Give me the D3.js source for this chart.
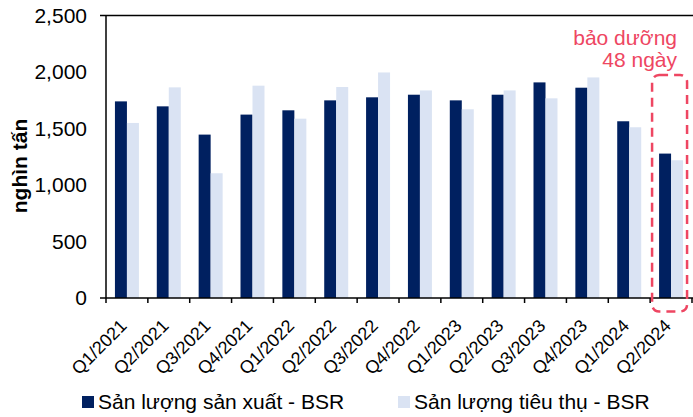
<!DOCTYPE html>
<html>
<head>
<meta charset="utf-8">
<script src="https://cdn.jsdelivr.net/npm/d3@7"></script>
<style>
  html, body { margin: 0; padding: 0; background: #ffffff; }
  svg { display: block; font-family: "Liberation Sans", Arial, sans-serif; }
</style>
</head>
<body>
<svg id="chart" width="693" height="417"></svg>
<script>
const categories = ["Q1/2021","Q2/2021","Q3/2021","Q4/2021","Q1/2022","Q2/2022","Q3/2022","Q4/2022","Q1/2023","Q2/2023","Q3/2023","Q4/2023","Q1/2024","Q2/2024"];
const seriesNames = ["Sản lượng sản xuất - BSR", "Sản lượng tiêu thụ - BSR"];
const production = [1740, 1696, 1446, 1623, 1661, 1749, 1776, 1799, 1749, 1799, 1908, 1861, 1564, 1278];
const consumption = [1549, 1864, 1104, 1879, 1587, 1867, 1996, 1837, 1670, 1837, 1767, 1952, 1511, 1219];
const yTicks = [0, 500, 1000, 1500, 2000, 2500];
const yTitle = "nghìn tấn";
const annotation = ["bảo dưỡng", "48 ngày"];
const highlightCategory = "Q2/2024";
const colors = ["#002060", "#dae3f3"];
const annoColor = "#ee4662";

(function () {
const svg = d3.select("#chart");
const pLeft = 106, pRight = 692, pTop = 15.5, pBottom = 298;

const x = d3.scaleBand().domain(categories).range([pLeft, pRight]).paddingInner(0.427).paddingOuter(0.2135);
const x1 = d3.scaleBand().domain(seriesNames).range([0, x.bandwidth()]);
const y = d3.scaleLinear().domain([0, 2500]).range([pBottom, pTop]);

const data = categories.map((c, i) => ({ cat: c, vals: [production[i], consumption[i]] }));

const g = svg.append("g");
data.forEach(d => {
  d.vals.forEach((v, j) => {
    g.append("rect")
      .attr("x", x(d.cat) + x1(seriesNames[j]))
      .attr("y", y(v))
      .attr("width", x1.bandwidth())
      .attr("height", y(0) - y(v))
      .attr("fill", colors[j]);
  });
});

svg.append("line").attr("x1", pLeft - 6).attr("x2", pRight + 1).attr("y1", y(2500)).attr("y2", y(2500))
  .attr("stroke", "#000").attr("stroke-width", 1.5);
svg.append("line").attr("x1", pLeft).attr("x2", pLeft).attr("y1", y(2500)).attr("y2", y(0))
  .attr("stroke", "#000").attr("stroke-width", 1.5);
svg.append("line").attr("x1", pLeft - 6).attr("x2", pRight + 1).attr("y1", y(0)).attr("y2", y(0))
  .attr("stroke", "#000").attr("stroke-width", 1.5);

const half = (x.step() - x.bandwidth()) / 2;
const bounds = categories.map(c => x(c) - half);
bounds.push(x(categories[categories.length - 1]) + x.bandwidth() + half);
bounds.forEach(b => {
  svg.append("line").attr("x1", b).attr("x2", b).attr("y1", y(0)).attr("y2", y(0) + 5)
    .attr("stroke", "#000").attr("stroke-width", 1.5);
});

yTicks.forEach(t => {
  svg.append("text").attr("x", 87).attr("y", y(t)).attr("dy", "0.35em")
    .attr("text-anchor", "end").attr("font-size", 21).attr("fill", "#000")
    .text(d3.format(",")(t));
});

svg.append("text")
  .attr("transform", `translate(27, 166) rotate(-90)`)
  .attr("text-anchor", "middle").attr("font-size", 21).attr("font-weight", "bold").attr("fill", "#000")
  .text(yTitle);

categories.forEach(c => {
  const cx = x(c) + x.bandwidth() / 2;
  svg.append("text")
    .attr("transform", `translate(${cx + 1}, 327) rotate(-45)`)
    .attr("text-anchor", "end").attr("font-size", 18).attr("fill", "#000")
    .text(c);
});

const hx = x(highlightCategory);
svg.append("rect")
  .attr("x", hx - 7).attr("y", 75).attr("width", x.bandwidth() + 11).attr("height", 311.5 - 75)
  .attr("rx", 7).attr("ry", 7)
  .attr("fill", "none").attr("stroke", annoColor).attr("stroke-width", 2.5)
  .attr("stroke-dasharray", "9,6");

annotation.forEach((t, i) => {
  svg.append("text").attr("x", 677).attr("y", 45 + i * 22)
    .attr("text-anchor", "end").attr("font-size", 21).attr("fill", annoColor).text(t);
});

const legendPos = [82, 398];
seriesNames.forEach((s, i) => {
  svg.append("rect").attr("x", legendPos[i]).attr("y", 396).attr("width", 12).attr("height", 12).attr("fill", colors[i]);
  svg.append("text").attr("x", legendPos[i] + 16).attr("y", 409).attr("font-size", 21).attr("fill", "#000").text(s);
});
})();
</script>
</body>
</html>
